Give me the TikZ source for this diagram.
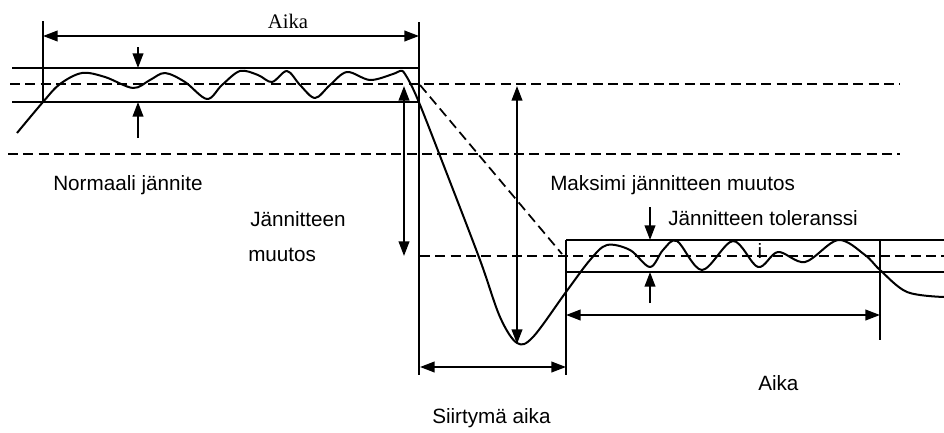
\documentclass[tikz,border=0pt]{standalone}
\usepackage{fontspec}
\setmainfont{Liberation Serif}
\setsansfont{Liberation Sans}
\usetikzlibrary{arrows.meta}

\begin{document}
\begin{tikzpicture}[
    x=0.75pt, y=-0.75pt,
    every node/.style={font=\sffamily\fontsize{15.5}{18}\selectfont, inner sep=0pt},
    ln/.style={draw=black, line width=1.4pt},
    dl/.style={draw=black, line width=1.3pt, dash pattern=on 7.5pt off 4pt},
    sig/.style={draw=black, line width=1.5pt, line join=round},
    tip/.style={-{Triangle[length=11pt,width=8pt]}, line width=1.4pt},
    dtip/.style={{Triangle[length=11pt,width=8pt]}-{Triangle[length=11pt,width=8pt]}, line width=1.4pt},
]
\useasboundingbox (0,0) rectangle (944,432);

% ====== GUIDE LINES ======
\draw[dl] (10,84) -- (900,84);
\draw[dl] (8,154) -- (900,154);
\draw[dl] (420,256) -- (944,256);
\draw[dl] (420,85) -- (562,254);

% ====== LEFT BAND ======
\draw[ln] (12,68) -- (419,68);
\draw[ln] (12,102) -- (419,102);
\draw[ln] (43,21) -- (43,102);
\draw[ln] (419,22) -- (419,375);
\coordinate (aika1-l) at (43,36);
\coordinate (aika1-r) at (419,36);
\draw[dtip] (aika1-l) -- (aika1-r);
\node[font=\rmfamily\fontsize{15.5}{18}\selectfont] (aika1) at (288,21) {Aika};

\coordinate (tolL-a) at (138,47);
\coordinate (tolL-b) at (138,68);
\coordinate (tolL-c) at (138,138);
\coordinate (tolL-d) at (138,102);
\draw[tip] (tolL-a) -- (tolL-b);
\draw[tip] (tolL-c) -- (tolL-d);

% ====== RIGHT BAND ======
\draw[ln] (566,240) -- (944,240);
\draw[ln] (566,272) -- (944,272);
\draw[ln] (566,240) -- (566,375);
\draw[ln] (880,240) -- (880,340);
\coordinate (aika2-l) at (566,315);
\coordinate (aika2-r) at (880,315);
\draw[dtip] (aika2-l) -- (aika2-r);

\coordinate (tolR-a) at (650,207);
\coordinate (tolR-b) at (650,240);
\coordinate (tolR-c) at (650,303);
\coordinate (tolR-d) at (650,272);
\draw[tip] (tolR-a) -- (tolR-b);
\draw[tip] (tolR-c) -- (tolR-d);

% ====== CHANGE ARROWS ======
\coordinate (muutos-t) at (404,86);
\coordinate (muutos-b) at (404,256);
\draw[dtip] (muutos-t) -- (muutos-b);
\coordinate (maks-t) at (517,86);
\coordinate (maks-b) at (517,344);
\draw[dtip] (maks-t) -- (maks-b);
\coordinate (siirt-l) at (420,367);
\coordinate (siirt-r) at (566,367);
\draw[dtip] (siirt-l) -- (siirt-r);

% ====== SIGNAL ======
\draw[sig] plot[smooth, tension=0.55] coordinates {
    (17,133) (43,102) (60,84) (82,73) (105,77) (133,88) (150,80)
    (165,73) (185,82) (207,99) (222,85) (240,71) (258,75) (272,82)
    (287,71) (300,85) (315,98) (330,85) (347,72) (370,80) (393,74)
    (400,71) (405,74) (418,100) (447,174) (480,260) (500,317)
    (517,343) (533,337) (566,292) (590,260) (607,245) (630,250)
    (650,267) (663,250) (677,241) (702,270) (733,241) (758,267)
    (778,252) (805,262) (838,240) (865,255) (880,270) (907,292)
    (944,297)};

% ====== LABELS ======
\node[anchor=west] (normaali) at (53,185) {Normaali jännite};
\node[anchor=west] (jm1) at (250,219) {Jännitteen};
\node[anchor=west] (jm2) at (248,255) {muutos};
\node[anchor=west] (maks) at (550,185) {Maksimi jännitteen muutos};
\node[anchor=west] (tol) at (668,218) {Jännitteen toleranssi};
\node (stray) at (760,251) {i};
\node[anchor=west] (siirt) at (432,418) {Siirtymä aika};
\node[anchor=west] (aika2) at (758,383) {Aika};

\end{tikzpicture}
\end{document}
